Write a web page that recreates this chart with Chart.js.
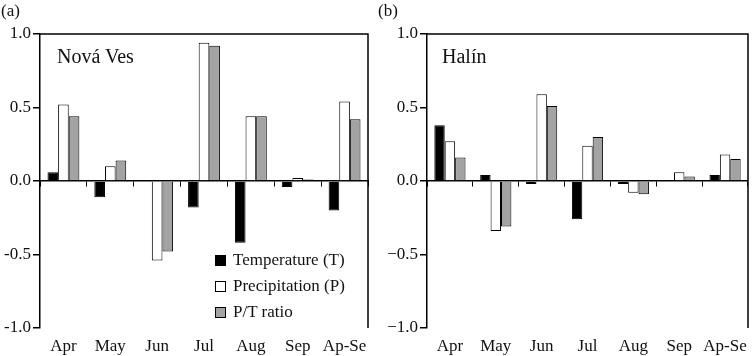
<!DOCTYPE html>
<html>
<head>
<meta charset="utf-8">
<script src="https://cdn.jsdelivr.net/npm/chart.js@4/dist/chart.umd.min.js"></script>
<style>
  body { margin: 0; background: #fff; }
  #wrap { position: relative; width: 755px; height: 356px; overflow: hidden; font-family: "Liberation Serif", serif; color: #111; }
  canvas { position: absolute; top: 0; }
  .txt { position: absolute; white-space: nowrap; }
  .box { position: absolute; width: 11px; height: 11px; border: 1px solid #000; box-sizing: border-box; }
</style>
</head>
<body>
<div id="wrap">
  <canvas id="chart-a" width="375" height="356" style="left:0"></canvas>
  <canvas id="chart-b" width="380" height="356" style="left:375px"></canvas>
  <div class="txt" style="left:1px;top:1px;font-size:17px;line-height:20px">(a)</div>
  <div class="txt" style="left:378px;top:1px;font-size:17px;line-height:20px">(b)</div>
  <div class="txt" style="left:57px;top:45px;font-size:20px;line-height:22px">Nová Ves</div>
  <div class="txt" style="left:442px;top:45px;font-size:20px;line-height:22px">Halín</div>
  <div id="legend"></div>
</div>
<script>
'use strict';

var months = ['Apr', 'May', 'Jun', 'Jul', 'Aug', 'Sep', 'Ap-Se'];
var seriesNames = ['Temperature (T)', 'Precipitation (P)', 'P/T ratio'];
var seriesColors = ['#000000', '#ffffff', '#a3a3a3'];
var yTicks = [-1.0, -0.5, 0.0, 0.5, 1.0];

// (a) Nová Ves
var novaVesTemp = [0.06, -0.11, 0.0, -0.18, -0.42, -0.04, -0.20];
var novaVesPrec = [0.52, 0.10, -0.54, 0.94, 0.44, 0.02, 0.54];
var novaVesRatio = [0.44, 0.14, -0.48, 0.92, 0.44, 0.01, 0.42];

// (b) Halín
var halinTemp = [0.38, 0.04, -0.02, -0.26, -0.02, 0.0, 0.04];
var halinPrec = [0.27, -0.34, 0.59, 0.24, -0.08, 0.06, 0.18];
var halinRatio = [0.16, -0.31, 0.51, 0.30, -0.09, 0.03, 0.15];

var tickFont = { family: 'Liberation Serif', size: 17 };

// top and right edges of the plot box
var framePlugin = {
    id: 'frame',
    afterDraw: function(chart) {
        var a = chart.chartArea;
        var ctx = chart.ctx;
        ctx.save();
        ctx.strokeStyle = '#000';
        ctx.lineWidth = 1.5;
        ctx.beginPath();
        ctx.moveTo(a.left, a.top);
        ctx.lineTo(a.right, a.top);
        ctx.lineTo(a.right, a.bottom);
        ctx.stroke();
        ctx.restore();
    }
};

var makeDatasets = function(arrs) {
    return arrs.map(function(vals, i) {
        return {
            label: seriesNames[i],
            data: vals,
            backgroundColor: seriesColors[i],
            borderColor: '#000',
            borderWidth: 1,
            xAxisID: 'x',
            yAxisID: 'y',
            categoryPercentage: 0.68,
            barPercentage: 1.0
        };
    });
};

var createPanel = function(id, arrs, yWidth, padRight, minus) {
    var ctx = document.getElementById(id).getContext('2d');
    return new Chart(ctx, {
        type: 'bar',
        data: {
            labels: months,
            datasets: makeDatasets(arrs)
        },
        options: {
            responsive: false,
            animation: false,
            devicePixelRatio: 1,
            layout: { padding: { top: 34, right: padRight, left: 0, bottom: 0 } },
            plugins: {
                legend: { display: false },
                tooltip: { enabled: false }
            },
            scales: {
                x: {
                    type: 'category',
                    position: 'bottom',
                    offset: true,
                    grid: { display: false, drawTicks: false, offset: true },
                    border: { display: false },
                    ticks: { color: '#111', font: tickFont, padding: 8, maxRotation: 0, autoSkip: false },
                    afterFit: function(s) { s.height = 28; }
                },
                x0: {
                    type: 'category',
                    axis: 'x',
                    position: { y: 0 },
                    offset: true,
                    grid: { drawOnChartArea: false, drawTicks: true, tickLength: 5, color: '#000', lineWidth: 1, offset: true },
                    border: { display: true, color: '#000', width: 1.5 },
                    ticks: { display: false }
                },
                y: {
                    type: 'linear',
                    min: yTicks[0],
                    max: yTicks[yTicks.length - 1],
                    grid: { drawOnChartArea: false, drawTicks: true, tickLength: 7, color: '#000', lineWidth: 1.5 },
                    border: { display: true, color: '#000', width: 1.5 },
                    afterBuildTicks: function(s) {
                        s.ticks = yTicks.map(function(v) { return { value: v }; });
                    },
                    ticks: {
                        color: '#111',
                        font: tickFont,
                        padding: 2,
                        callback: function(v) {
                            var s = Math.abs(v).toFixed(1);
                            return v < 0 ? minus + s : s;
                        }
                    },
                    afterFit: function(s) { s.width = yWidth; }
                }
            }
        },
        plugins: [framePlugin]
    });
};

createPanel('chart-a', [novaVesTemp, novaVesPrec, novaVesRatio], 40, 7, '-');
createPanel('chart-b', [halinTemp, halinPrec, halinRatio], 52, 3, '\u2212');

// legend inside panel (a)
var legend = document.getElementById('legend');
seriesNames.forEach(function(name, i) {
    var top = 250 + i * 26;
    var box = document.createElement('div');
    box.className = 'box';
    box.style.left = '215px';
    box.style.top = (top + 5) + 'px';
    box.style.background = seriesColors[i];
    legend.appendChild(box);
    var t = document.createElement('div');
    t.className = 'txt';
    t.style.left = '233px';
    t.style.top = top + 'px';
    t.style.fontSize = '17px';
    t.style.lineHeight = '20px';
    t.textContent = name;
    legend.appendChild(t);
});
</script>
</body>
</html>
